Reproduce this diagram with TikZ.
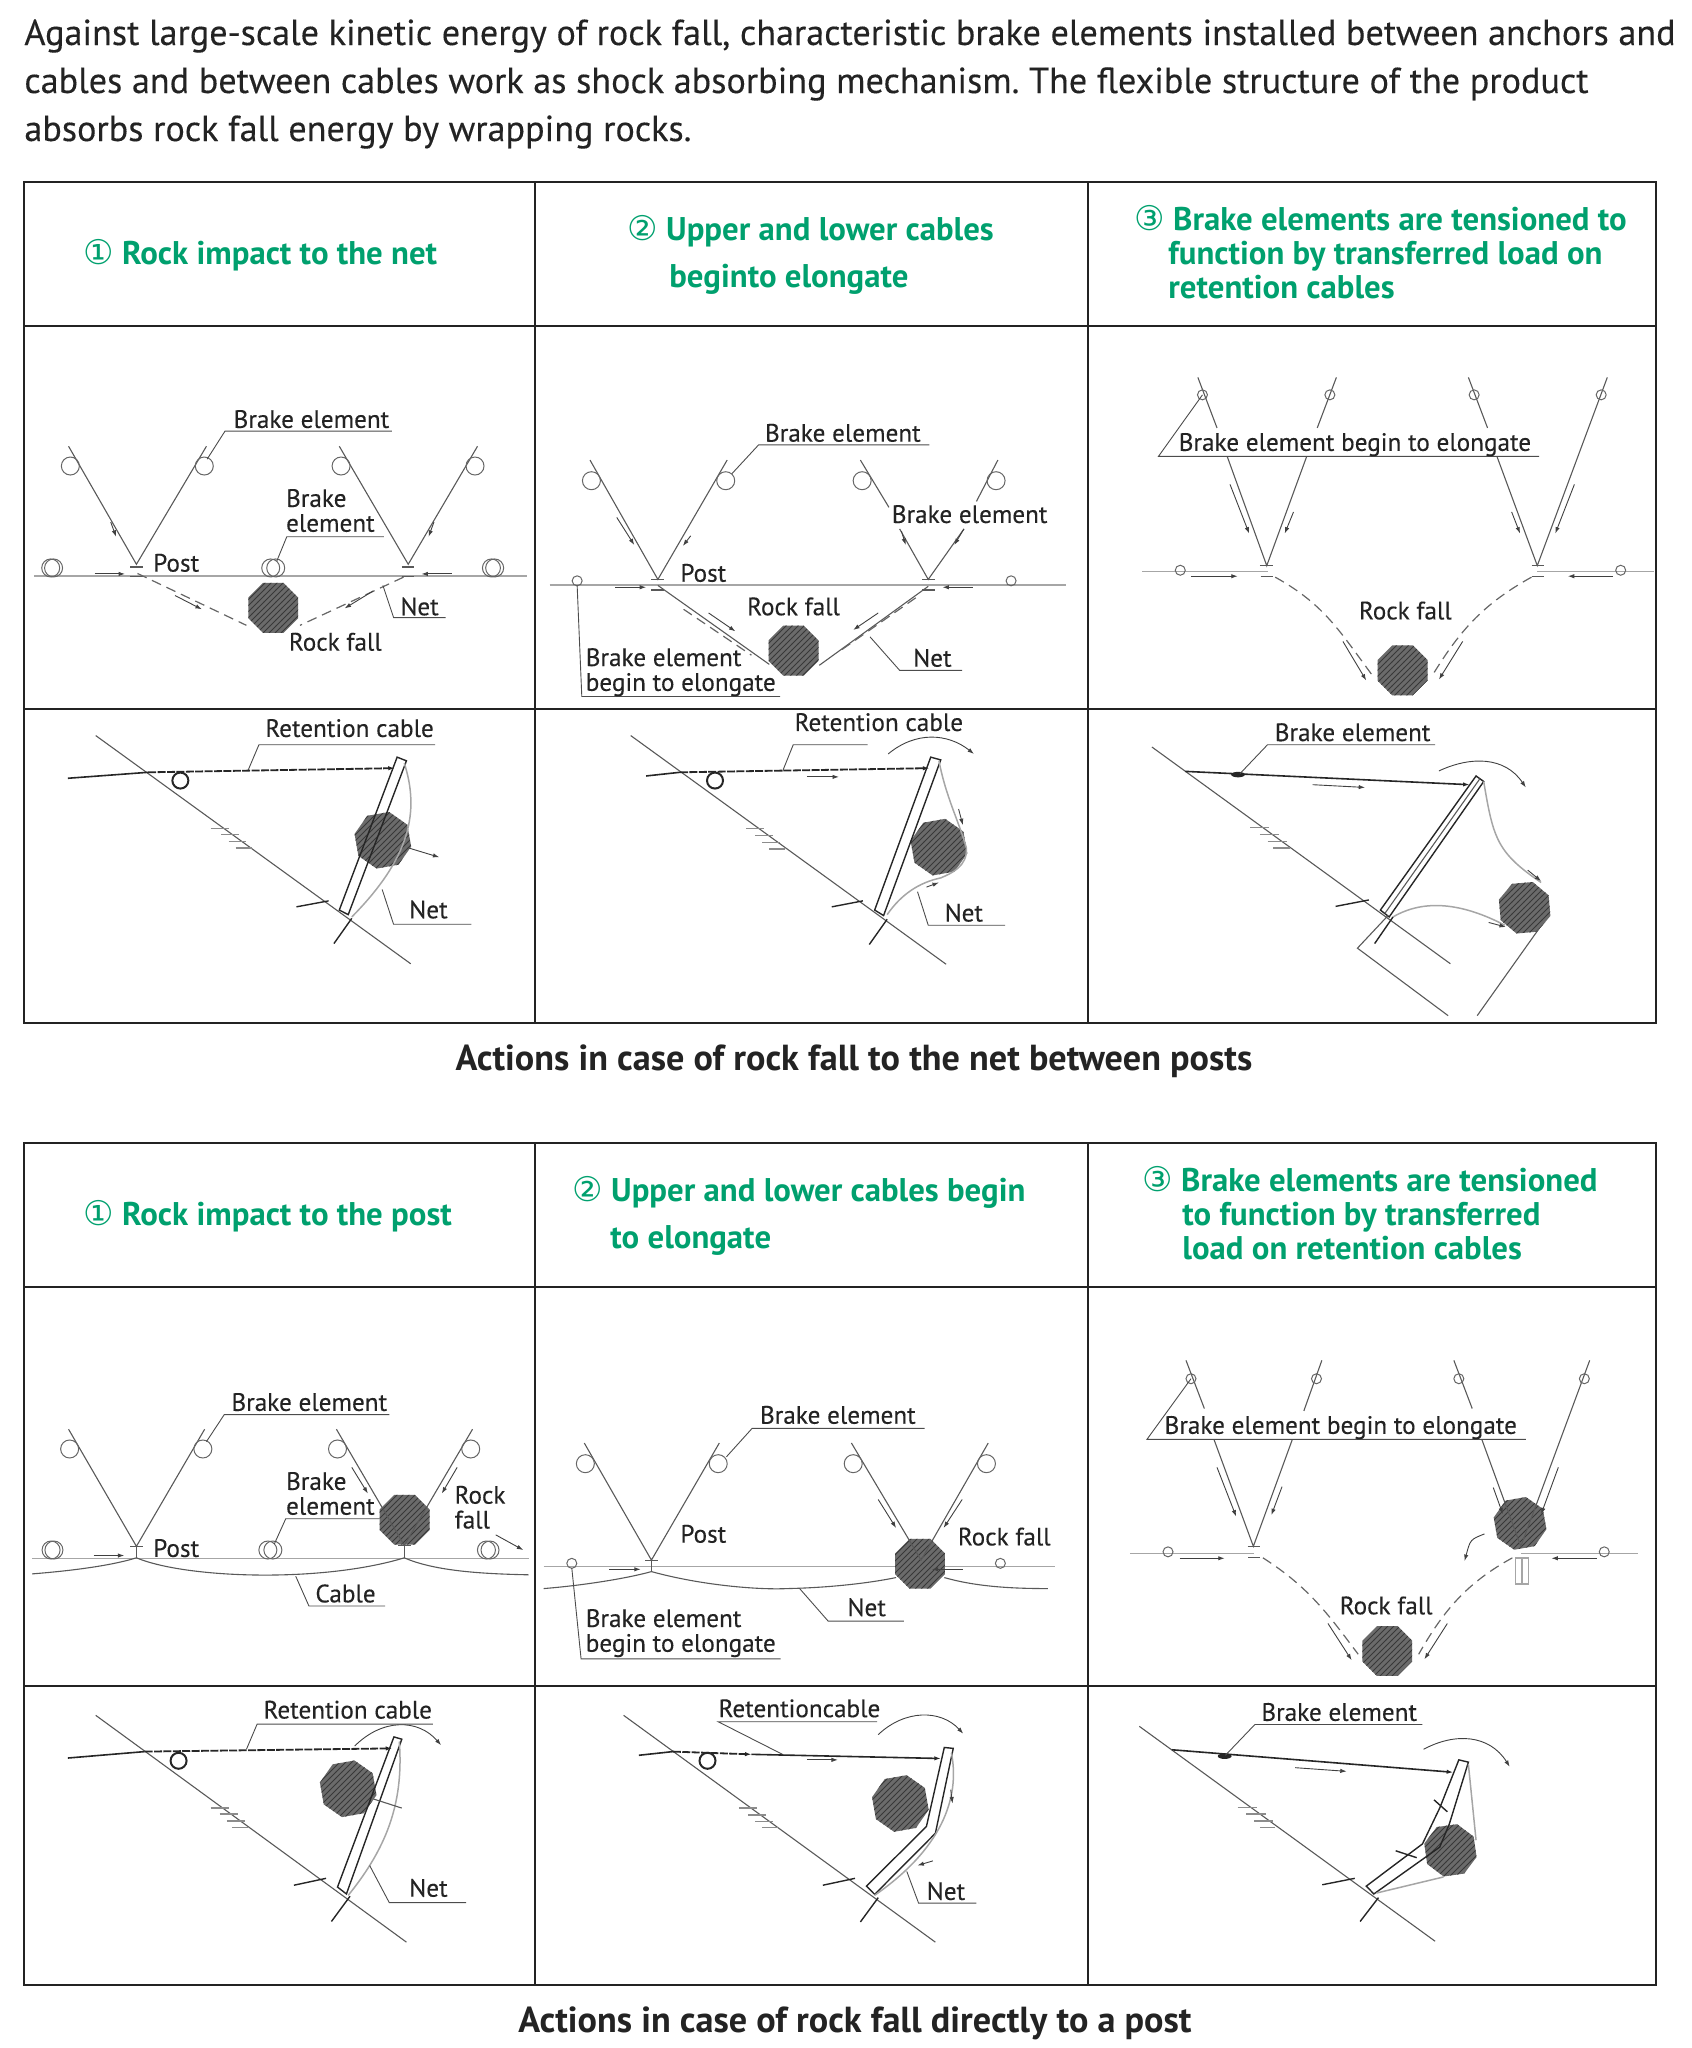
\documentclass[tikz,border=0pt]{standalone}
\usepackage{fontspec}
\usetikzlibrary{shapes.geometric,patterns,arrows.meta}
\setmainfont{PT Sans}
\newfontfamily\symfont{DejaVu Sans}
\newfontfamily\bodyfont[FakeBold=0.25]{PT Sans}
\definecolor{headgreen}{RGB}{0,160,110}
\definecolor{inkdark}{RGB}{35,35,35}
\newcommand{\stepmark}[1]{{\symfont\mdseries\fontsize{17}{17}\selectfont #1}}
\begin{document}
\begin{tikzpicture}[>={Latex[length=3.2pt,width=2.2pt]},x=0.5pt,y=-0.5pt]
    % Styles
    \tikzstyle{zoomA}=[xscale=0.35714,yscale=0.45918]
    \tikzstyle{zoomB}=[xscale=0.38265,yscale=0.45918]
    \tikzstyle{grid}=[draw=inkdark, line width=1pt]
    \tikzstyle{intro}=[anchor=west, inner sep=0pt, align=left, text=inkdark, font=\bodyfont\frenchspacing\fontsize{18.08}{24}\selectfont]
    \tikzstyle{caption}=[inner sep=0pt, text=inkdark, font=\bfseries\fontsize{18.1}{20}\selectfont]
    \tikzstyle{stephead}=[anchor=west, inner sep=0pt, align=left, text=headgreen, font=\bfseries\fontsize{16.4}{17}\selectfont]
    \tikzstyle{lbl}=[anchor=base west, inner sep=0pt, align=left, text=inkdark, font=\bodyfont\fontsize{12.6}{12.4}\selectfont]
    \tikzstyle{lbltwo}=[anchor=west, inner sep=0pt, align=left, text=inkdark, font=\bodyfont\fontsize{12.6}{12.4}\selectfont]
    \tikzstyle{wire}=[draw=black!65, line width=0.55pt]
    \tikzstyle{cablegrey}=[draw=black!35, line width=0.75pt]
    \tikzstyle{leader}=[draw=black!70, line width=0.45pt]
    \tikzstyle{dashnet}=[draw=black!60, line width=0.6pt, dash pattern=on 5pt off 3pt]
    \tikzstyle{pull}=[->, draw=black!75, line width=0.45pt]
    \tikzstyle{retain}=[draw=black!85, line width=0.8pt]
    \tikzstyle{retaindash}=[->, draw=black!85, line width=0.9pt, dash pattern=on 4pt off 0.7pt]
    \tikzstyle{anchorbar}=[draw=black!85, line width=0.7pt]
    \tikzstyle{hatchline}=[draw=black!45, line width=0.6pt]
    \tikzstyle{ring}=[circle, draw=black!60, line width=0.5pt, inner sep=0pt, minimum size=9pt]
    \tikzstyle{ringsmall}=[circle, draw=black!60, line width=0.5pt, inner sep=0pt, minimum size=5pt]
    \tikzstyle{ringthick}=[circle, draw=black!85, line width=1pt, inner sep=0pt, minimum size=8pt]
    \tikzstyle{rock}=[regular polygon, regular polygon sides=8, inner sep=0pt, minimum size=27pt, preaction={fill=black!58}, pattern=north east lines, pattern color=black!78]

    \useasboundingbox (0,0) rectangle (1691,2048);

    % Text
    \node[intro] (intro) at (24,84) {Against large-scale kinetic energy of rock fall, characteristic brake elements installed between anchors and\\cables and between cables work as shock absorbing mechanism. The flexible structure of the product\\absorbs rock fall energy by wrapping rocks.};
    \node[caption] (captionTop) at (854,1061) {Actions in case of rock fall to the net between posts};
    \node[caption] (captionBottom) at (855,2023) {Actions in case of rock fall directly to a post};

    % Tables
    \draw[grid] (24,182) rectangle (1656,1023);
    \draw[grid] (24,326) -- (1656,326);
    \draw[grid] (24,709) -- (1656,709);
    \draw[grid] (535,182) -- (535,1023);
    \draw[grid] (1088,182) -- (1088,1023);
    \draw[grid] (24,1143) rectangle (1656,1985);
    \draw[grid] (24,1287) -- (1656,1287);
    \draw[grid] (24,1686) -- (1656,1686);
    \draw[grid] (535,1143) -- (535,1985);
    \draw[grid] (1088,1143) -- (1088,1985);

    % Step headings
    \node[stephead] (headA) at (83,255) {\stepmark{①} Rock impact to the net};
    \node[stephead] (headB) at (627,255) {\stepmark{②} Upper and lower cables\\[6.5pt]\hspace*{21pt}beginto elongate};
    \node[stephead] (headC) at (1134,252) {\stepmark{③} Brake elements are tensioned to\\\hspace*{17pt}function by transferred load on\\\hspace*{17pt}retention cables};
    \node[stephead] (headD) at (83,1216) {\stepmark{①} Rock impact to the post};
    \node[stephead] (headE) at (572,1216) {\stepmark{②} Upper and lower cables begin\\[6.5pt]\hspace*{19pt}to elongate};
    \node[stephead] (headF) at (1142,1213) {\stepmark{③} Brake elements are tensioned\\\hspace*{20pt}to function by transferred\\\hspace*{20pt}load on retention cables};

    % Net between posts, step 1
    \begin{scope}[shift={(0,320)},zoomA]
        \draw[cablegrey] (95,558) -- (1475,558);
        \draw[wire] (192,275) -- (382,532) -- (578,275);
        \draw[wire] (950,275) -- (1143,532) -- (1337,275);
        \node[ring] (ringA1) at (197,318) {};
        \node[ring] (ringA2) at (572,318) {};
        \node[ring] (ringA3) at (955,318) {};
        \node[ring] (ringA4) at (1330,318) {};
        \node[ring] (ringA5) at (142,540) {};
        \node[ring] (ringA6) at (150,540) {};
        \node[ring] (ringA7) at (758,540) {};
        \node[ring] (ringA8) at (772,540) {};
        \node[ring] (ringA9) at (1376,540) {};
        \node[ring] (ringA10) at (1385,540) {};
        \draw[wire] (365,538) -- (400,538) (365,558) -- (400,558);
        \draw[wire] (1125,538) -- (1160,538) (1125,558) -- (1160,558);
        \draw[dashnet] (385,552) -- (690,665);
        \draw[dashnet] (1130,560) -- (840,665);
        \draw[pull] (265,553) -- (350,553);
        \draw[pull] (1265,553) -- (1180,553);
        \draw[pull] (310,440) -- (325,472);
        \draw[pull] (1215,440) -- (1200,472);
        \draw[pull] (490,600) -- (565,630);
        \draw[pull] (1045,590) -- (965,628);
        \node[rock] (rockA) at (765,627) {};
        \draw[leader] (580,303) -- (630,242) -- (1097,242);
        \draw[leader] (775,525) -- (803,472) -- (1075,472);
        \draw[leader] (1072,578) -- (1102,648) -- (1248,648);
        \node[lbl] (brakeA1) at (653,235) {Brake element};
        \node[lbltwo] (brakeA2) at (800,415) {Brake\\element};
        \node[lbl] (postA) at (428,548) {Post};
        \node[lbl] (netA) at (1120,643) {Net};
        \node[lbl] (fallA) at (808,720) {Rock fall};
        % side view
        \draw[wire] (268,905) -- (1150,1402);
        \draw[hatchline] (590,1108) -- (640,1108) (620,1120) -- (670,1120) (640,1135) -- (690,1135) (660,1150) -- (705,1150);
        \draw[retain] (190,998) -- (415,985);
        \draw[retaindash] (415,985) -- (1105,976);
        \node[ringthick] (ringA11) at (505,1003) {};
        \node[rock, minimum size=29pt, shape border rotate=10] (rockA2) at (1072,1133) {};
        \draw[anchorbar] (950,1285) -- (1112,952) -- (1138,960) -- (975,1295) -- cycle;
        \draw[cablegrey] (1132,965) .. controls (1175,1070) and (1150,1170) .. (985,1300);
        \draw[pull] (1145,1150) -- (1230,1170);
        \draw[anchorbar] (830,1278) -- (920,1265) (935,1358) -- (985,1303);
        \draw[leader] (695,980) -- (725,925) -- (1218,925);
        \draw[leader] (1070,1240) -- (1102,1316) -- (1320,1316);
        \node[lbl] (retainA) at (742,908) {Retention cable};
        \node[lbl] (netA2) at (1145,1303) {Net};
    \end{scope}

    % Net between posts, step 2
    \begin{scope}[shift={(530,320)},zoomA]
        \draw[cablegrey] (55,577) -- (1500,577);
        \draw[wire] (168,305) -- (358,565) -- (552,305);
        \draw[wire] (925,305) -- (1005,408) (1035,455) -- (1115,565) -- (1215,455) (1250,395) -- (1310,305);
        \node[ring] (ringB1) at (172,350) {};
        \node[ring] (ringB2) at (548,350) {};
        \node[ring] (ringB3) at (930,350) {};
        \node[ring] (ringB4) at (1305,350) {};
        \node[ringsmall] (ringB5) at (132,568) {};
        \node[ringsmall] (ringB6) at (1347,568) {};
        \draw[wire] (340,565) -- (375,565) (340,588) -- (375,588);
        \draw[wire] (1098,565) -- (1133,565) (1098,588) -- (1133,588);
        \draw[wire] (358,578) -- (670,750);
        \draw[wire] (1115,580) -- (810,752);
        \draw[dashnet] (430,630) -- (620,730);
        \draw[dashnet] (1080,605) -- (860,725);
        \draw[pull] (243,430) -- (292,490);
        \draw[pull] (450,470) -- (428,492);
        \draw[pull] (1040,460) -- (1052,490);
        \draw[pull] (1215,455) -- (1188,490);
        \draw[pull] (238,582) -- (325,582);
        \draw[pull] (1240,582) -- (1155,582);
        \draw[pull] (500,638) -- (575,678);
        \draw[pull] (975,638) -- (905,675);
        \node[rock] (rockB) at (738,720) {};
        \draw[leader] (565,335) -- (640,272) -- (1118,272);
        \draw[leader] (132,578) -- (145,820) -- (700,820);
        \draw[leader] (952,690) -- (1035,763) -- (1210,763);
        \node[lbl] (brakeB1) at (657,265) {Brake element};
        \node[lbl] (brakeB2) at (1012,442) {Brake element};
        \node[lbl] (postB) at (420,570) {Post};
        \node[lbl] (fallB) at (607,643) {Rock fall};
        \node[lbl] (netB) at (1072,755) {Net};
        \node[lbltwo] (elongateB) at (155,767) {Brake element\\begin to elongate};
        % side view
        \draw[wire] (282,905) -- (1165,1403);
        \draw[hatchline] (605,1108) -- (655,1108) (630,1122) -- (680,1122) (650,1138) -- (700,1138) (670,1152) -- (715,1152);
        \draw[retain] (325,993) -- (420,985);
        \draw[retaindash] (420,985) -- (1118,976);
        \node[ringthick] (ringB7) at (518,1003) {};
        \draw[pull] (775,995) -- (865,995);
        \node[rock, minimum size=29pt, shape border rotate=10] (rockB2) at (1145,1148) {};
        \draw[anchorbar] (965,1285) -- (1122,952) -- (1150,958) -- (990,1297) -- cycle;
        \draw[pull] (1003,945) .. controls (1080,895) and (1170,900) .. (1243,945);
        \draw[cablegrey] (1145,960) .. controls (1165,1040) and (1200,1090) .. (1222,1150) .. controls (1225,1190) and (1180,1205) .. (1150,1215) .. controls (1090,1225) and (1040,1250) .. (1000,1295);
        \draw[pull] (1200,1065) -- (1212,1100);
        \draw[pull] (1110,1235) -- (1145,1225);
        \draw[anchorbar] (845,1278) -- (932,1265) (950,1360) -- (1000,1305);
        \draw[leader] (707,983) -- (737,925) -- (945,925);
        \draw[leader] (1085,1245) -- (1115,1318) -- (1330,1318);
        \node[lbl] (retainB) at (740,895) {Retention cable};
        \node[lbl] (netB2) at (1160,1310) {Net};
    \end{scope}

    % Net between posts, step 3
    \begin{scope}[shift={(1080,320)},zoomB]
        \draw[cablegrey] (163,548) -- (490,548) (1195,548) -- (1500,548);
        \draw[wire] (308,125) -- (358,235) (385,298) -- (488,535) -- (592,298) (620,235) -- (670,125);
        \draw[wire] (1015,125) -- (1065,235) (1090,298) -- (1195,535) -- (1378,125);
        \node[ringsmall] (ringC1) at (320,163) {};
        \node[ringsmall] (ringC2) at (653,163) {};
        \node[ringsmall] (ringC3) at (1030,163) {};
        \node[ringsmall] (ringC4) at (1362,163) {};
        \node[ringsmall] (ringC5) at (262,545) {};
        \node[ringsmall] (ringC6) at (1413,545) {};
        \draw[wire] (470,535) -- (505,535) (472,558) -- (505,558);
        \draw[wire] (1180,535) -- (1212,535) (1180,558) -- (1212,558);
        \draw[dashnet] (510,560) .. controls (640,620) and (680,680) .. (765,775);
        \draw[dashnet] (1180,560) .. controls (1050,620) and (990,680) .. (920,775);
        \draw[pull] (290,558) -- (412,558);
        \draw[pull] (1393,558) -- (1275,558);
        \draw[pull] (392,358) -- (442,465);
        \draw[pull] (558,418) -- (535,465);
        \draw[pull] (1128,418) -- (1150,465);
        \draw[pull] (1292,358) -- (1242,465);
        \draw[pull] (687,700) -- (748,785);
        \draw[pull] (1000,700) -- (938,783);
        \node[rock] (rockC) at (843,763) {};
        \draw[leader] (320,163) -- (205,297) -- (1200,297);
        \node[lbl] (elongateC) at (257,285) {Brake element begin to elongate};
        \node[lbl] (fallC) at (728,652) {Rock fall};
        % side view
        \draw[wire] (188,930) -- (968,1402);
        \draw[hatchline] (445,1105) -- (495,1105) (470,1120) -- (520,1120) (490,1135) -- (540,1135) (505,1150) -- (550,1150);
        \draw[retain, ->] (275,983) -- (1018,1012);
        \fill[black!85] (413,990) ellipse (18 and 6);
        \node[rock, minimum size=27pt, shape border rotate=5] (rockC2) at (1162,1280) {};
        \draw[anchorbar] (785,1285) -- (1035,993) -- (1055,1005) -- (808,1300) -- cycle;
        \draw[wire] (797,1292) -- (1045,999);
        \draw[pull] (938,982) .. controls (1020,950) and (1110,950) .. (1165,1018);
        \draw[cablegrey] (1055,1005) .. controls (1080,1130) and (1090,1160) .. (1205,1225);
        \draw[cablegrey] (818,1300) .. controls (900,1260) and (1000,1270) .. (1110,1318);
        \draw[pull] (608,1012) -- (745,1018);
        \draw[pull] (1170,1198) -- (1205,1222);
        \draw[pull] (1068,1312) -- (1113,1322);
        \draw[anchorbar] (668,1277) -- (755,1263) (770,1358) -- (818,1300);
        \draw[wire] (805,1297) -- (725,1368) -- (962,1515) (1038,1515) -- (1200,1325);
        \draw[leader] (418,988) -- (490,925) -- (928,925);
        \node[lbl] (brakeC) at (508,917) {Brake element};
    \end{scope}

    % Post impact, step 1
    \begin{scope}[shift={(0,1280)},zoomA]
        \draw[cablegrey] (90,606) -- (1480,606);
        \draw[wire] (192,325) -- (382,580) -- (573,325);
        \node[rock] (rockD) at (1133,522) {};
        \draw[wire] (942,325) -- (1132,578) -- (1323,325);
        \node[ring] (ringD1) at (195,368) {};
        \node[ring] (ringD2) at (568,368) {};
        \node[ring] (ringD3) at (945,368) {};
        \node[ring] (ringD4) at (1318,368) {};
        \node[ring] (ringD5) at (143,588) {};
        \node[ring] (ringD6) at (151,588) {};
        \node[ring] (ringD7) at (750,588) {};
        \node[ring] (ringD8) at (764,588) {};
        \node[ring] (ringD9) at (1362,588) {};
        \node[ring] (ringD10) at (1372,588) {};
        \draw[wire] (365,580) -- (400,580) (382,580) -- (382,605);
        \draw[wire] (1115,578) -- (1150,578) (1132,578) -- (1132,605);
        \draw[wire] (90,640) .. controls (220,632) and (320,620) .. (382,605) .. controls (520,650) and (900,660) .. (1132,605) .. controls (1220,635) and (1360,640) .. (1480,642);
        \draw[pull] (262,600) -- (348,600);
        \draw[pull] (985,408) -- (1030,465);
        \draw[pull] (1280,408) -- (1237,465);
        \draw[pull] (1388,555) -- (1465,588);
        \draw[leader] (578,352) -- (628,293) -- (1090,293);
        \draw[leader] (768,575) -- (800,520) -- (1062,520);
        \draw[leader] (828,645) -- (865,710) -- (1078,710);
        \node[lbl] (brakeD1) at (647,285) {Brake element};
        \node[lbltwo] (brakeD2) at (800,465) {Brake\\element};
        \node[lbltwo] (fallD) at (1272,495) {Rock\\fall};
        \node[lbl] (postD) at (428,603) {Post};
        \node[lbl] (cableD) at (882,702) {Cable};
        % side view
        \draw[wire] (268,948) -- (1138,1442);
        \draw[hatchline] (590,1150) -- (640,1150) (615,1163) -- (665,1163) (635,1178) -- (685,1178) (650,1192) -- (695,1192);
        \draw[retain] (190,1041) -- (405,1027);
        \draw[retaindash] (405,1027) -- (1098,1020);
        \node[ringthick] (ringD11) at (500,1047) {};
        \node[rock, minimum size=29pt, shape border rotate=10] (rockD2) at (975,1108) {};
        \draw[anchorbar] (945,1322) -- (1103,995) -- (1125,1000) -- (970,1337) -- cycle;
        \draw[pull] (993,1015) .. controls (1070,955) and (1170,955) .. (1235,1013);
        \draw[cablegrey] (1118,1005) .. controls (1130,1130) and (1090,1230) .. (975,1340);
        \draw[wire] (1045,1130) -- (1125,1150);
        \draw[anchorbar] (823,1318) -- (913,1303) (928,1397) -- (980,1342);
        \draw[leader] (690,1022) -- (720,967) -- (1212,967);
        \draw[leader] (1035,1275) -- (1090,1356) -- (1305,1356);
        \node[lbl] (retainD) at (737,955) {Retention cable};
        \node[lbl] (netD) at (1145,1343) {Net};
    \end{scope}

    % Post impact, step 2
    \begin{scope}[shift={(530,1280)},zoomA]
        \draw[cablegrey] (38,624) -- (1470,624);
        \draw[wire] (152,355) -- (340,610) -- (530,355);
        \node[rock] (rockE) at (1092,618) {};
        \draw[wire] (900,355) -- (1095,610) -- (1283,355);
        \node[ring] (ringE1) at (155,400) {};
        \node[ring] (ringE2) at (527,400) {};
        \node[ring] (ringE3) at (905,400) {};
        \node[ring] (ringE4) at (1278,400) {};
        \node[ringsmall] (ringE5) at (117,617) {};
        \node[ringsmall] (ringE6) at (1317,617) {};
        \draw[wire] (322,610) -- (358,610) (340,610) -- (340,635);
        \draw[wire] (38,672) .. controls (150,665) and (270,650) .. (340,635) .. controls (480,665) and (640,675) .. (720,672) .. controls (840,670) and (950,660) .. (1025,648);
        \draw[wire] (1160,648) .. controls (1250,668) and (1350,672) .. (1450,672);
        \draw[pull] (222,630) -- (310,630);
        \draw[pull] (975,478) -- (1025,540);
        \draw[pull] (1210,478) -- (1158,540);
        \draw[pull] (1212,630) -- (1125,630);
        \draw[leader] (550,385) -- (622,323) -- (1105,323);
        \draw[leader] (117,627) -- (143,825) -- (702,825);
        \draw[leader] (755,672) -- (835,743) -- (1047,743);
        \node[lbl] (brakeE) at (643,313) {Brake element};
        \node[lbl] (postE) at (420,572) {Post};
        \node[lbl] (fallE) at (1197,578) {Rock fall};
        \node[lbl] (netE) at (888,732) {Net};
        \node[lbltwo] (elongateE) at (155,769) {Brake element\\begin to elongate};
        % side view
        \draw[wire] (262,948) -- (1135,1442);
        \draw[hatchline] (585,1150) -- (635,1150) (610,1165) -- (660,1165) (630,1180) -- (680,1180) (650,1193) -- (695,1193);
        \draw[retain] (305,1035) -- (400,1027);
        \draw[retaindash] (400,1027) -- (620,1033);
        \draw[retain, ->] (620,1033) -- (1150,1042);
        \node[ringthick] (ringE7) at (497,1047) {};
        \node[rock, minimum size=29pt, shape border rotate=10] (rockE2) at (1037,1140) {};
        \draw[pull] (775,1045) -- (862,1045);
        \draw[anchorbar] (942,1320) -- (1110,1190) -- (1160,1018) -- (1185,1020) -- (1135,1205) -- (965,1338) -- cycle;
        \draw[pull] (975,990) .. controls (1050,935) and (1150,935) .. (1213,988);
        \draw[cablegrey] (1180,1030) .. controls (1205,1130) and (1150,1240) .. (965,1340);
        \draw[pull] (1178,1110) -- (1183,1140);
        \draw[pull] (1128,1265) -- (1085,1275);
        \draw[anchorbar] (820,1318) -- (910,1303) (925,1398) -- (975,1345);
        \draw[leader] (707,1033) -- (527,962) -- (972,962);
        \draw[leader] (1055,1288) -- (1088,1357) -- (1250,1357);
        \node[lbl] (retainE) at (527,952) {Retentioncable};
        \node[lbl] (netE2) at (1110,1350) {Net};
    \end{scope}

    % Post impact, step 3
    \begin{scope}[shift={(1080,1280)},zoomB]
        \draw[cablegrey] (130,596) -- (455,596) (1152,596) -- (1457,596);
        \node[rock, shape border rotate=10] (rockF) at (1150,530) {};
        \draw[wire] (277,175) -- (325,280) (350,347) -- (453,580) -- (555,347) (585,285) -- (632,175);
        \draw[wire] (977,175) -- (1025,280) (1050,347) -- (1152,580) -- (1332,175);
        \node[ringsmall] (ringF1) at (290,215) {};
        \node[ringsmall] (ringF2) at (618,215) {};
        \node[ringsmall] (ringF3) at (990,215) {};
        \node[ringsmall] (ringF4) at (1318,215) {};
        \node[ringsmall] (ringF5) at (230,592) {};
        \node[ringsmall] (ringF6) at (1370,592) {};
        \draw[wire] (438,580) -- (470,580) (440,605) -- (470,605);
        \draw[cablegrey] (1138,605) rectangle (1172,662) (1155,605) -- (1155,662);
        \draw[dashnet] (478,605) .. controls (600,670) and (650,730) .. (727,815);
        \draw[dashnet] (1130,605) .. controls (1010,660) and (950,720) .. (885,815);
        \draw[pull] (260,606) -- (378,606);
        \draw[pull] (1350,606) -- (1232,606);
        \draw[pull] (358,408) -- (408,515);
        \draw[pull] (528,450) -- (500,512);
        \draw[pull] (1080,452) -- (1105,510);
        \draw[pull] (1250,408) -- (1205,510);
        \draw[pull] (648,748) -- (710,828);
        \draw[pull] (960,748) -- (900,826);
        \draw[pull] (1057,553) .. controls (1020,565) .. (1005,612);
        \node[rock] (rockF2) at (803,808) {};
        \draw[leader] (290,215) -- (175,347) -- (1165,347);
        \node[lbl] (elongateF) at (220,335) {Brake element begin to elongate};
        \node[lbl] (fallF) at (678,728) {Rock fall};
        % side view
        \draw[wire] (155,972) -- (928,1440);
        \draw[hatchline] (412,1148) -- (462,1148) (435,1163) -- (485,1163) (455,1178) -- (505,1178) (470,1192) -- (510,1192);
        \draw[retain, ->] (240,1023) -- (975,1072);
        \fill[black!85] (378,1037) ellipse (18 and 6);
        \draw[pull] (562,1062) -- (697,1070);
        \node[rock, minimum size=27pt, shape border rotate=8] (rockF3) at (968,1242) {};
        \draw[anchorbar] (748,1320) -- (895,1228) -- (940,1150) -- (990,1045) -- (1015,1050) -- (965,1185) -- (940,1235) -- (768,1337) -- cycle;
        \draw[pull] (898,1022) .. controls (980,985) and (1070,990) .. (1123,1060);
        \draw[cablegrey] (1015,1055) -- (1035,1220);
        \draw[cablegrey] (775,1335) -- (950,1300);
        \draw[anchorbar] (633,1317) -- (718,1303) (732,1397) -- (780,1345);
        \draw[anchorbar] (925,1132) -- (960,1158) (825,1243) -- (880,1258);
        \draw[leader] (380,1035) -- (457,968) -- (895,968);
        \node[lbl] (brakeF) at (473,960) {Brake element};
    \end{scope}
\end{tikzpicture}
\end{document}
